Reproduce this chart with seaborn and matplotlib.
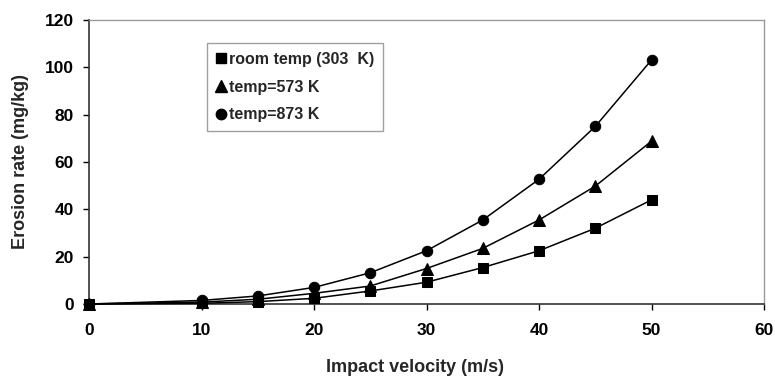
import matplotlib
matplotlib.use("Agg")
import matplotlib.pyplot as plt
import seaborn as sns
import pandas as pd
from matplotlib.lines import Line2D

velocity = [0, 10, 15, 20, 25, 30, 35, 40, 45, 50]
room_303 = [0, 0.3, 1.0, 2.4, 5.5, 9.2, 15.4, 22.5, 32.0, 44.0]
temp_573 = [0, 0.8, 2.0, 4.5, 7.6, 15.0, 23.5, 35.5, 49.8, 68.8]
temp_873 = [0, 1.5, 3.4, 7.0, 13.2, 22.5, 35.5, 52.7, 75.0, 103.1]
series_names = ["room temp (303  K)", "temp=573 K", "temp=873 K"]
markers = ["s", "^", "o"]

rows = []
for name, vals in zip(series_names, [room_303, temp_573, temp_873]):
    for v, e in zip(velocity, vals):
        rows.append({"velocity": v, "erosion": e, "series": name})
df = pd.DataFrame(rows)

sns.set_style("white")
plt.rcParams['font.family'] = ['Liberation Sans', 'DejaVu Sans']
plt.rcParams['font.weight'] = 'bold'

fig = plt.figure(figsize=(7.75, 3.76), dpi=100)
ax = fig.add_axes([89/775, 1 - 304/376, (764-89)/775, (304-20)/376])

for name, m in zip(series_names, markers):
    sub = df[df.series == name]
    sns.lineplot(data=sub, x="velocity", y="erosion", ax=ax, color="black",
                 linewidth=1.1, marker=m, markersize=7.5 if m != "^" else 8.5,
                 markeredgecolor="black", markerfacecolor="black",
                 label=name, legend=False, clip_on=False, zorder=3)

ax.set_xlim(0, 60)
ax.set_ylim(0, 120)
ax.set_xticks(range(0, 61, 10))
ax.set_yticks(range(0, 121, 20))
ax.tick_params(axis='both', labelsize=12.5, direction='out', length=4, width=1,
               colors='black', bottom=True, left=True)
for lab in ax.get_xticklabels() + ax.get_yticklabels():
    lab.set_fontweight('bold')
ax.tick_params(axis='x', pad=10)
ax.tick_params(axis='y', pad=7)

for s in ['left', 'bottom']:
    ax.spines[s].set_color('#333333')
    ax.spines[s].set_linewidth(1.2)
for s in ['top', 'right']:
    ax.spines[s].set_color('#999999')
    ax.spines[s].set_linewidth(1.0)

ax.set_xlabel("Impact velocity (m/s)", fontsize=13, fontweight='bold')
ax.set_ylabel("Erosion rate (mg/kg)", fontsize=13, fontweight='bold')
ax.xaxis.set_label_coords((415-89)/675, -(367-304)/284)
ax.xaxis.label.set_va('center')
ax.yaxis.set_label_coords(-(89-21)/675, 0.5)
ax.yaxis.label.set_va('center')

handles = [Line2D([], [], color='black', marker=m, linestyle='None',
                  markersize=7.5 if m != "^" else 8.5)
           for m in markers]
leg = ax.legend(handles, series_names, loc='upper left',
                bbox_to_anchor=((207-89)/675, 1 - (43-20)/284),
                borderaxespad=0, frameon=True, fancybox=False,
                handlelength=0.7, handletextpad=0.15, borderpad=0.55,
                labelspacing=0.8, prop={'weight': 'bold', 'size': 11.5})
leg.get_frame().set_edgecolor('#888888')
leg.get_frame().set_linewidth(1.0)

fig.savefig("out.png", dpi=100)
